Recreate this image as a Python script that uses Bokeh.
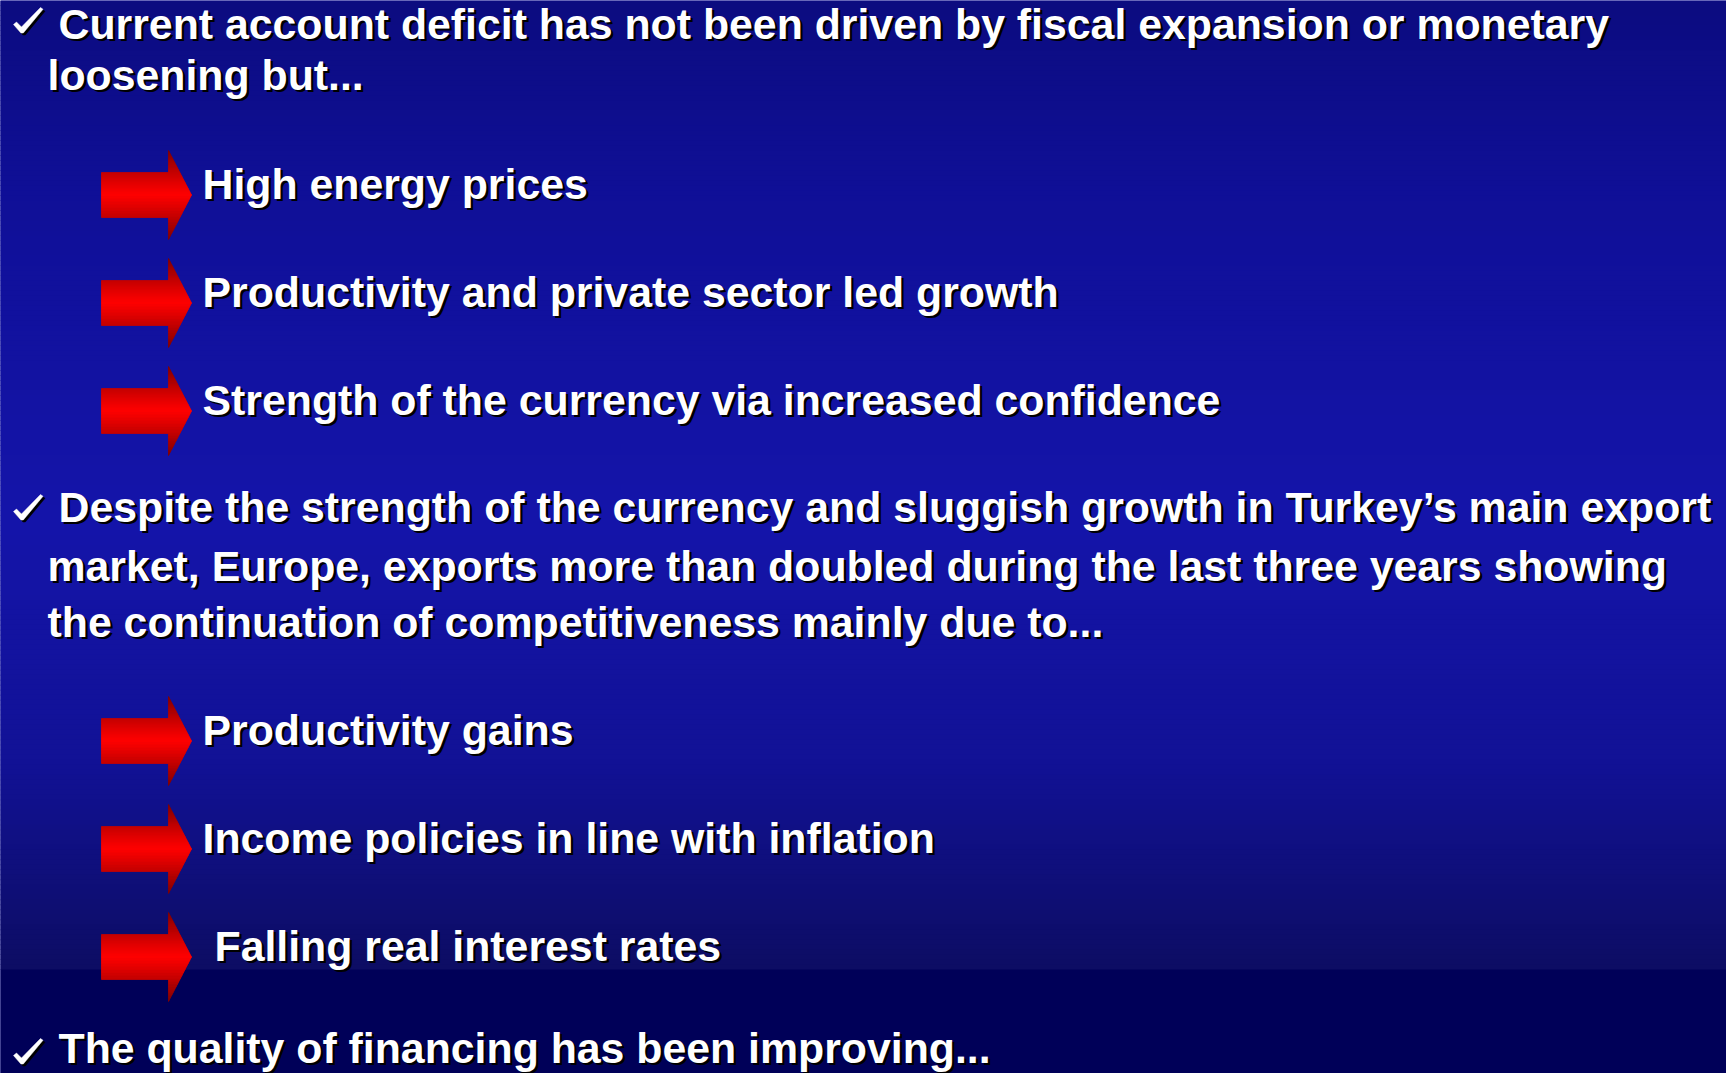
import numpy as np
from bokeh.plotting import figure
from bokeh.models import Range1d
from bokeh.core.properties import value
from bokeh.embed import file_html
from bokeh.resources import INLINE

# ---------------- content ----------------
point1_lines = ["Current account deficit has not been driven by fiscal expansion or monetary",
                "loosening but..."]
point1_bullets = ["High energy prices",
                  "Productivity and private sector led growth",
                  "Strength of the currency via increased confidence"]
point2_lines = ["Despite the strength of the currency and sluggish growth in Turkey\u2019s main export",
                "market, Europe, exports more than doubled during the last three years showing",
                "the continuation of competitiveness mainly due to..."]
point2_bullets = ["Productivity gains",
                  "Income policies in line with inflation",
                  "Falling real interest rates"]
point3_lines = ["The quality of financing has been improving..."]

# ---------------- layout (page pixel coordinates) ----------------
W, H = 1726, 1073
p = figure(width=W, height=H, x_range=Range1d(0, W), y_range=Range1d(H, 0),
           output_backend="svg", toolbar_location=None, min_border=0,
           outline_line_color=None)
p.axis.visible = False
p.grid.visible = False
p.background_fill_color = "#10109a"
p.border_fill_color = "#10109a"

# background gradient (vertical)
stops_y = [0, 200, 520, 760, 968]
stops_c = [(12, 12, 128), (16, 16, 152), (21, 21, 170), (18, 18, 150), (13, 13, 100)]
edges = np.linspace(0, 969, 195)
mids = (edges[:-1] + edges[1:]) / 2
cols = []
for m in mids:
    r = np.interp(m, stops_y, [c[0] for c in stops_c])
    g = np.interp(m, stops_y, [c[1] for c in stops_c])
    b = np.interp(m, stops_y, [c[2] for c in stops_c])
    cols.append("#%02x%02x%02x" % (int(r), int(g), int(b)))
p.quad(left=-5, right=1735, top=edges[:-1], bottom=edges[1:] + 0.6, fill_color=cols, line_color=None)
p.quad(left=-5, right=1735, top=969, bottom=1080, fill_color="#000058", line_color=None)

FONT = value("Liberation Sans")
SIZE = "42.8px"
SH = 2.5       # shadow offset
TY = -17       # baseline correction of the text glyph


def draw_text(xs, ys, texts, size=SIZE, font=FONT):
    ys = [y + TY for y in ys]
    p.text(x=[x + SH for x in xs], y=[y + SH for y in ys], text=texts, text_color="black",
           text_font=font, text_font_style="bold", text_font_size=size,
           text_baseline="alphabetic", text_align="left")
    p.text(x=xs, y=ys, text=texts, text_color="white",
           text_font=font, text_font_style="bold", text_font_size=size,
           text_baseline="alphabetic", text_align="left")


# check-mark bullet shape (relative outline)
CHECK_X = [0, 3, 8, 27, 29.5, 9.8, 7.4]
CHECK_Y = [17, 14.5, 19.5, 0, 1.8, 25.5, 25.5]


def draw_check(x0, y0):
    p.patch([x0 + 2 + v for v in CHECK_X], [y0 + 2 + v for v in CHECK_Y],
            fill_color="black", line_color="black", line_width=0.5)
    p.patch([x0 + v for v in CHECK_X], [y0 + v for v in CHECK_Y],
            fill_color="white", line_color="white", line_width=0.5)


def draw_arrow(cy):
    x_left, x_neck, x_tip = 101, 168, 191
    body_h, head_h = 22.5, 44.5
    xs_all, ys_all, cs = [], [], []

    def right_at(dy):
        return x_tip - (x_tip - x_neck) * abs(dy) / head_h

    segs = [(-head_h, -body_h, x_neck, 14), (-body_h, body_h, x_left, 30), (body_h, head_h, x_neck, 14)]
    for a, b, left, n in segs:
        e = np.linspace(a, b, n + 1)
        for y0, y1 in zip(e[:-1], e[1:]):
            t = abs((y0 + y1) / 2) / head_h
            rr = int(255 - 125 * t ** 1.1)
            cs.append("#%02x0000" % rr)
            xs_all.append([left, right_at(y0), right_at(y1), left])
            ys_all.append([cy + y0, cy + y0, cy + y1, cy + y1])
    p.patches(xs=xs_all, ys=ys_all, fill_color=cs, line_color=cs, line_width=0.8)


# point 1
draw_check(13, 7)
draw_text([58, 47], [40, 91], point1_lines)
b1_base = [200, 308, 416]
for yb in b1_base:
    draw_arrow(yb - 5.5)
draw_text([202, 202, 202], b1_base, point1_bullets)

# point 2
draw_check(13, 494)
draw_text([58, 47, 47], [523, 582, 638], point2_lines)
b2_base = [746, 854, 962]
for yb in b2_base:
    draw_arrow(yb - 5.5)
draw_text([202, 202, 214], b2_base, point2_bullets)

# point 3
draw_check(13, 1038)
draw_text([58], [1064], point3_lines, size="42.8px")

open("out.html", "w").write(file_html(p, INLINE))
